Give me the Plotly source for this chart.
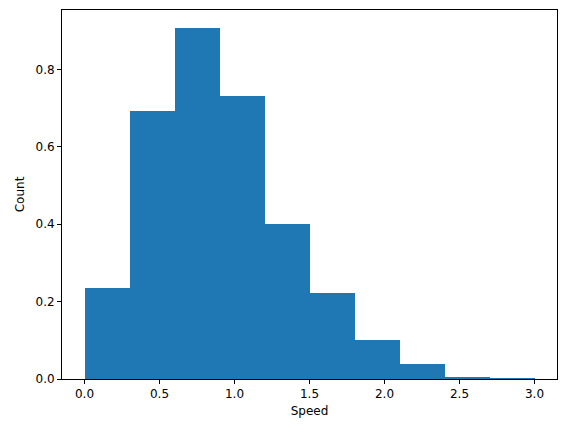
import plotly.graph_objects as go

bin_left = [0.0, 0.3, 0.6, 0.9, 1.2, 1.5, 1.8, 2.1, 2.4, 2.7]
bin_width = 0.3
density = [0.236, 0.692, 0.908, 0.730, 0.400, 0.222, 0.100, 0.040, 0.006, 0.001]

centers = [b + bin_width / 2 for b in bin_left]

fig = go.Figure(go.Bar(x=centers, y=density, width=bin_width,
                       marker=dict(color="#1f77b4", line=dict(width=0))))

axis = dict(showgrid=False, zeroline=False, showline=True, linecolor="black",
            linewidth=1, mirror=True, ticks="outside", ticklen=4,
            tickcolor="black", tickfont=dict(size=12, color="black"))

fig.update_xaxes(axis, range=[-0.15, 3.15], tickvals=[0, 0.5, 1, 1.5, 2, 2.5, 3],
                 ticktext=["0.0", "0.5", "1.0", "1.5", "2.0", "2.5", "3.0"],
                 title=dict(text="Speed", font=dict(size=12, color="black"), standoff=6))
fig.update_yaxes(axis, range=[0, 0.9534], tickvals=[0, 0.2, 0.4, 0.6, 0.8],
                 ticktext=["0.0", "0.2", "0.4", "0.6", "0.8"],
                 title=dict(text="Count", font=dict(size=12, color="black"), standoff=8))

# page body adds an 8px offset, so margins compensate
fig.update_layout(width=567, height=432, plot_bgcolor="white", paper_bgcolor="white",
                  margin=dict(l=54, r=18, t=2, b=61), bargap=0, showlegend=False,
                  font=dict(family="DejaVu Sans"))

fig.write_html("out.html")
